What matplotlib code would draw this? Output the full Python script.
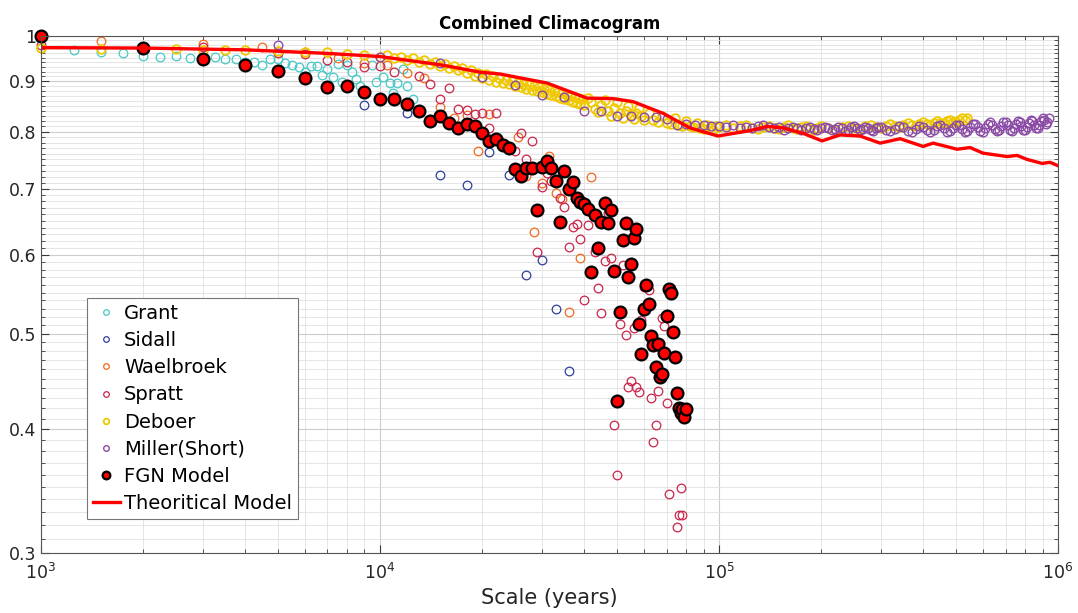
import numpy as np
import matplotlib
matplotlib.use("Agg")
import matplotlib.pyplot as plt
from matplotlib.ticker import FixedLocator, NullFormatter, LogLocator

plt.rcParams["font.family"] = ["DejaVu Sans"]
plt.rcParams["mathtext.fontset"] = "dejavusans"

# ── Data (scale in kyr, climacogram value) ────────────────────
grant_kyr = [1.0, 1.25, 1.5, 1.75, 2.0, 2.25, 2.5, 2.75, 3.0, 3.25, 3.5, 3.75,
             4.0, 4.25, 4.5, 4.75, 5.0, 5.25, 5.5, 5.75, 6.0, 6.25, 6.5, 6.75,
             7.0, 7.25, 7.5, 7.75, 8.0, 8.25, 8.5, 8.75, 9.0, 9.45, 9.73,
             10.2, 10.7, 10.9, 11.2, 11.7, 12.0, 12.5]
grant_val = [0.972, 0.968, 0.964, 0.961, 0.954, 0.951, 0.954, 0.949, 0.953, 0.953,
             0.948, 0.947, 0.941, 0.942, 0.935, 0.947, 0.947, 0.938, 0.935, 0.930,
             0.920, 0.933, 0.933, 0.913, 0.925, 0.908, 0.936, 0.899, 0.935, 0.920,
             0.905, 0.889, 0.880, 0.935, 0.899, 0.908, 0.896, 0.875, 0.896, 0.925,
             0.889, 0.863]

sidall_kyr = [9, 12, 15, 18, 21, 24, 27, 30, 33, 36]
sidall_val = [0.852, 0.835, 0.723, 0.707, 0.763, 0.723, 0.573, 0.594, 0.530, 0.458]

waelbroek_kyr = [1.5, 3, 4.5, 6, 7.5, 9, 10.5, 12, 13.5, 15, 16.5, 18, 19.5, 21,
                 22.5, 25.5, 27, 28.5, 30, 31.5, 33, 34.5, 36, 39, 42]
waelbroek_val = [0.988, 0.982, 0.974, 0.962, 0.949, 0.938, 0.935, 0.917, 0.907,
                 0.848, 0.825, 0.831, 0.765, 0.834, 0.785, 0.791, 0.721, 0.634,
                 0.710, 0.756, 0.694, 0.684, 0.526, 0.596, 0.720]

spratt_kyr = [1, 3, 5, 6, 7, 8, 9, 10, 11, 13, 14, 15, 16, 17, 18, 19, 20, 21, 22,
              25, 26, 27, 28, 29, 30, 31, 32, 34, 35, 36, 37, 38, 39, 40, 41, 43,
              44, 45, 46, 47, 48, 49, 50, 51, 52, 53, 54, 55, 56, 57, 58, 59, 60,
              62, 63, 64, 65, 66, 67, 68, 69, 70, 71, 75, 76, 77, 78]
spratt_val = [0.978, 0.974, 0.960, 0.958, 0.946, 0.940, 0.929, 0.933, 0.919, 0.911,
              0.894, 0.863, 0.885, 0.843, 0.842, 0.834, 0.835, 0.807, 0.835, 0.765,
              0.797, 0.750, 0.782, 0.605, 0.704, 0.726, 0.713, 0.685, 0.672, 0.611,
              0.641, 0.645, 0.623, 0.540, 0.644, 0.604, 0.556, 0.525, 0.592, 0.662,
              0.596, 0.404, 0.360, 0.511, 0.587, 0.498, 0.441, 0.448, 0.507, 0.441,
              0.436, 0.516, 0.557, 0.553, 0.430, 0.388, 0.404, 0.437, 0.489, 0.518,
              0.509, 0.425, 0.344, 0.319, 0.328, 0.349, 0.328]

deboer_kyr = [1, 1.5, 2, 2.5, 3, 3.5, 4, 5, 6, 7, 8, 9, 10, 10.5, 11, 11.5, 12,
              12.5, 13, 13.5, 14, 14.5, 15, 15.5, 16, 16.5, 17, 17.5, 18, 18.5,
              19, 19.5, 20, 20.5, 21, 21.5, 22, 22.5, 23, 23.5, 24, 24.5, 25,
              25.5, 26, 26.5, 27, 27.5, 28, 28.5, 29, 29.5, 30, 30.5, 31, 31.5,
              32, 32.5, 33, 33.5, 34, 34.5, 35, 35.5, 36, 36.5, 37, 37.5, 38,
              38.5, 39, 39.5,
              40, 41, 42, 43, 44, 45, 46, 47, 48, 49, 50, 51, 52, 53, 54, 55, 56,
              57, 58, 59, 60, 62, 64, 66, 68, 70, 72, 74, 76, 78, 80, 82, 84, 86,
              88, 90, 92, 94, 96, 98,
              100, 105, 110, 115, 120, 125, 130, 135, 140, 145, 150, 155, 160,
              165, 170, 175, 180, 185, 190, 195, 200, 210, 220, 230, 240, 250,
              260, 270, 280, 290, 300, 310, 320, 330, 340, 350, 360, 370, 380,
              390, 400, 410, 420, 430, 440, 450, 460, 470, 480, 490, 500, 510,
              520, 530, 540]
deboer_val = [0.971, 0.970, 0.970, 0.969, 0.968, 0.968, 0.967, 0.966, 0.964, 0.962,
              0.959, 0.956, 0.953, 0.957, 0.950, 0.953, 0.946, 0.950, 0.942, 0.946,
              0.937, 0.942, 0.933, 0.937, 0.928, 0.932, 0.924, 0.928, 0.918, 0.923,
              0.911, 0.918, 0.907, 0.914, 0.902, 0.910, 0.899, 0.906, 0.896, 0.903,
              0.893, 0.900, 0.889, 0.897, 0.887, 0.895, 0.884, 0.892, 0.882, 0.889,
              0.879, 0.887, 0.877, 0.884, 0.874, 0.882, 0.872, 0.880, 0.869, 0.877,
              0.866, 0.875, 0.863, 0.872, 0.861, 0.870, 0.858, 0.868, 0.856, 0.866,
              0.853, 0.864,
              0.851, 0.866, 0.858, 0.843, 0.838, 0.852, 0.862, 0.840, 0.830, 0.846,
              0.858, 0.836, 0.826, 0.839, 0.850, 0.832, 0.824, 0.836, 0.846, 0.829,
              0.822, 0.835, 0.823, 0.818, 0.830, 0.817, 0.814, 0.825, 0.813, 0.811,
              0.820, 0.810, 0.808, 0.816, 0.806, 0.805, 0.813, 0.806, 0.804, 0.810,
              0.808, 0.812, 0.806, 0.810, 0.813, 0.807, 0.805, 0.809, 0.811, 0.806,
              0.805, 0.809, 0.812, 0.807, 0.805, 0.808, 0.811, 0.807, 0.804, 0.807,
              0.810, 0.806, 0.804, 0.809, 0.811, 0.806, 0.805, 0.810, 0.812, 0.808,
              0.807, 0.811, 0.814, 0.810, 0.809, 0.813, 0.816, 0.812, 0.811, 0.815,
              0.818, 0.814, 0.813, 0.817, 0.820, 0.816, 0.816, 0.820, 0.823, 0.819,
              0.819, 0.823, 0.826, 0.822, 0.825]

miller_kyr = [5, 10, 15, 20, 25, 30, 35, 40, 45, 50, 55, 60, 65, 70, 75, 80, 85, 90,
              95, 100, 105, 110, 115, 120, 125, 130, 135, 140, 145, 150, 155, 160,
              165, 170, 175, 180, 185, 190, 195, 200, 205, 210, 215, 220, 225, 230,
              235, 240, 245, 250, 255, 260, 265, 270, 275, 280, 285, 290, 295, 300,
              310, 320, 330, 340, 350, 360, 370, 380, 390, 400, 410, 420, 430, 440,
              450, 460, 470, 480, 490, 500, 510, 520, 530, 540, 550, 560, 570, 580,
              590, 600, 610, 620, 630, 640, 650, 660, 670, 680, 690, 700, 710, 720,
              730, 740, 750, 760, 770, 780, 790, 800, 810, 820, 830, 840, 850, 860,
              870, 880, 890, 900, 910, 920, 930, 940]
miller_val = [0.979, 0.953, 0.938, 0.908, 0.891, 0.872, 0.867, 0.840, 0.840, 0.830,
              0.829, 0.827, 0.827, 0.824, 0.813, 0.814, 0.812, 0.812, 0.810, 0.810,
              0.808, 0.812, 0.807, 0.809, 0.806, 0.810, 0.812, 0.808, 0.806, 0.809,
              0.804, 0.806, 0.809, 0.806, 0.803, 0.806, 0.808, 0.805, 0.803, 0.806,
              0.809, 0.807, 0.803, 0.805, 0.808, 0.806, 0.802, 0.804, 0.808, 0.810,
              0.806, 0.803, 0.805, 0.809, 0.807, 0.803, 0.802, 0.806, 0.809, 0.808,
              0.804, 0.801, 0.805, 0.810, 0.808, 0.802, 0.800, 0.805, 0.811, 0.809,
              0.803, 0.800, 0.804, 0.811, 0.812, 0.806, 0.800, 0.801, 0.807, 0.813,
              0.812, 0.805, 0.800, 0.801, 0.808, 0.815, 0.815, 0.808, 0.801, 0.800,
              0.806, 0.814, 0.818, 0.813, 0.805, 0.801, 0.803, 0.811, 0.818, 0.819,
              0.812, 0.804, 0.802, 0.806, 0.814, 0.820, 0.819, 0.811, 0.804, 0.803,
              0.809, 0.817, 0.822, 0.820, 0.812, 0.806, 0.806, 0.813, 0.821, 0.825,
              0.822, 0.814, 0.818, 0.826]

fgn_kyr = list(range(1, 81))
fgn_val = [1.000, 0.973, 0.947, 0.935, 0.921, 0.906, 0.887, 0.890, 0.878, 0.864,
           0.864, 0.853, 0.839, 0.820, 0.829, 0.816, 0.806, 0.815, 0.810, 0.797,
           0.782, 0.787, 0.775, 0.771, 0.734, 0.722, 0.736, 0.736, 0.666, 0.737,
           0.747, 0.735, 0.714, 0.648, 0.730, 0.700, 0.712, 0.685, 0.679, 0.676,
           0.668, 0.577, 0.659, 0.610, 0.648, 0.678, 0.647, 0.666, 0.579, 0.427,
           0.526, 0.622, 0.647, 0.571, 0.588, 0.625, 0.638, 0.511, 0.477, 0.529,
           0.560, 0.536, 0.497, 0.487, 0.462, 0.488, 0.452, 0.455, 0.478, 0.521,
           0.554, 0.549, 0.502, 0.473, 0.435, 0.420, 0.416, 0.419, 0.412, 0.419]

theory_kyr = [1, 2, 4, 7, 10, 15.03, 19.72, 22.6, 31.09, 40.79, 48.68, 55.77, 68.35,
              82.12, 99.3, 123.4, 138.6, 154.5, 176.9, 201.3, 227.5, 260.5, 298.5,
              342.0, 399.9, 427.9, 503.7, 550.2, 600.8, 707.2, 756.9, 810.3, 897.2,
              947.0, 1000.0]
theory_val = [0.973, 0.972, 0.968, 0.960, 0.953, 0.935, 0.919, 0.915, 0.896, 0.865,
              0.864, 0.858, 0.835, 0.807, 0.792, 0.802, 0.810, 0.807, 0.797, 0.783,
              0.794, 0.792, 0.779, 0.787, 0.773, 0.779, 0.768, 0.771, 0.761, 0.755,
              0.757, 0.750, 0.743, 0.745, 0.739]

# ── Plot ──────────────────────────────────────────────────────
fig = plt.figure(figsize=(10.78, 6.13), dpi=100)
ax = fig.add_axes([0.038, 0.098, 0.9435, 0.8435])

series = [
    ("Grant", grant_kyr, grant_val, "#45c9c6", 0.9),
    ("Sidall", sidall_kyr, sidall_val, "#2e3f9c", 0.9),
    ("Waelbroek", waelbroek_kyr, waelbroek_val, "#f26a1b", 0.9),
    ("Spratt", spratt_kyr, spratt_val, "#c9254a", 0.9),
    ("Deboer", deboer_kyr, deboer_val, "#f0c800", 1.3),
    ("Miller(Short)", miller_kyr, miller_val, "#8a4aa6", 1.0),
]
for name, xs, ys, col, ew in series:
    ax.plot(np.array(xs) * 1000, ys, linestyle="none", marker="o",
            markerfacecolor="none", markeredgecolor=col, markersize=6.2,
            markeredgewidth=ew, clip_on=False, label=name)

ax.plot(np.array(fgn_kyr) * 1000, fgn_val, linestyle="none", marker="o",
        markersize=8.5, markerfacecolor="#ff0000", markeredgecolor="black",
        markeredgewidth=1.6, clip_on=False, label="FGN Model")
ax.plot(np.array(theory_kyr) * 1000, theory_val, color="#ff0000", lw=2.4,
        label="Theoritical Model")

ax.set_xscale("log")
ax.set_yscale("log")
ax.set_xlim(1e3, 1e6)
ax.set_ylim(0.3, 1.0)

ax.yaxis.set_major_locator(FixedLocator([0.3, 0.4, 0.5, 0.6, 0.7, 0.8, 0.9, 1.0]))
ax.set_yticklabels(["0.3", "0.4", "0.5", "0.6", "0.7", "0.8", "0.9", "1"])
ax.yaxis.set_minor_locator(FixedLocator(np.round(np.arange(0.31, 1.0, 0.01), 2)))
ax.yaxis.set_minor_formatter(NullFormatter())
ax.xaxis.set_major_locator(FixedLocator([1e3, 1e4, 1e5, 1e6]))
ax.set_xticklabels([r"$10^{3}$", r"$10^{4}$", r"$10^{5}$", r"$10^{6}$"])
ax.xaxis.set_minor_locator(LogLocator(base=10, subs=np.arange(2, 10)))
ax.xaxis.set_minor_formatter(NullFormatter())

ax.grid(True, which="major", color="#cccccc", lw=0.8)
ax.grid(True, which="minor", color="#e0e0e0", lw=0.6)
ax.set_axisbelow(True)
ax.tick_params(which="both", direction="in", top=True, right=True,
               colors="#3a3a3a", labelcolor="#262626", labelsize=12.5)
ax.tick_params(axis="x", pad=7)
ax.tick_params(which="major", length=6, width=0.8)
ax.tick_params(which="minor", length=3, width=0.6)
for s in ax.spines.values():
    s.set_color("#555555")
    s.set_linewidth(0.8)

ax.set_title("Combined Climacogram", fontsize=12, fontweight="bold", pad=5)
ax.set_xlabel("Scale (years)", fontsize=15, color="#262626", labelpad=4)

leg = ax.legend(loc="upper left", bbox_to_anchor=(87 / 1078, 1 - 298 / 613),
                bbox_transform=fig.transFigure, borderaxespad=0,
                fontsize=14, markerscale=0.65, handlelength=1.4,
                handletextpad=0.2, labelspacing=0.42, borderpad=0.3,
                fancybox=False, framealpha=1, edgecolor="#777777")
leg.get_frame().set_linewidth(0.8)

fig.savefig("out.png", dpi=100)
